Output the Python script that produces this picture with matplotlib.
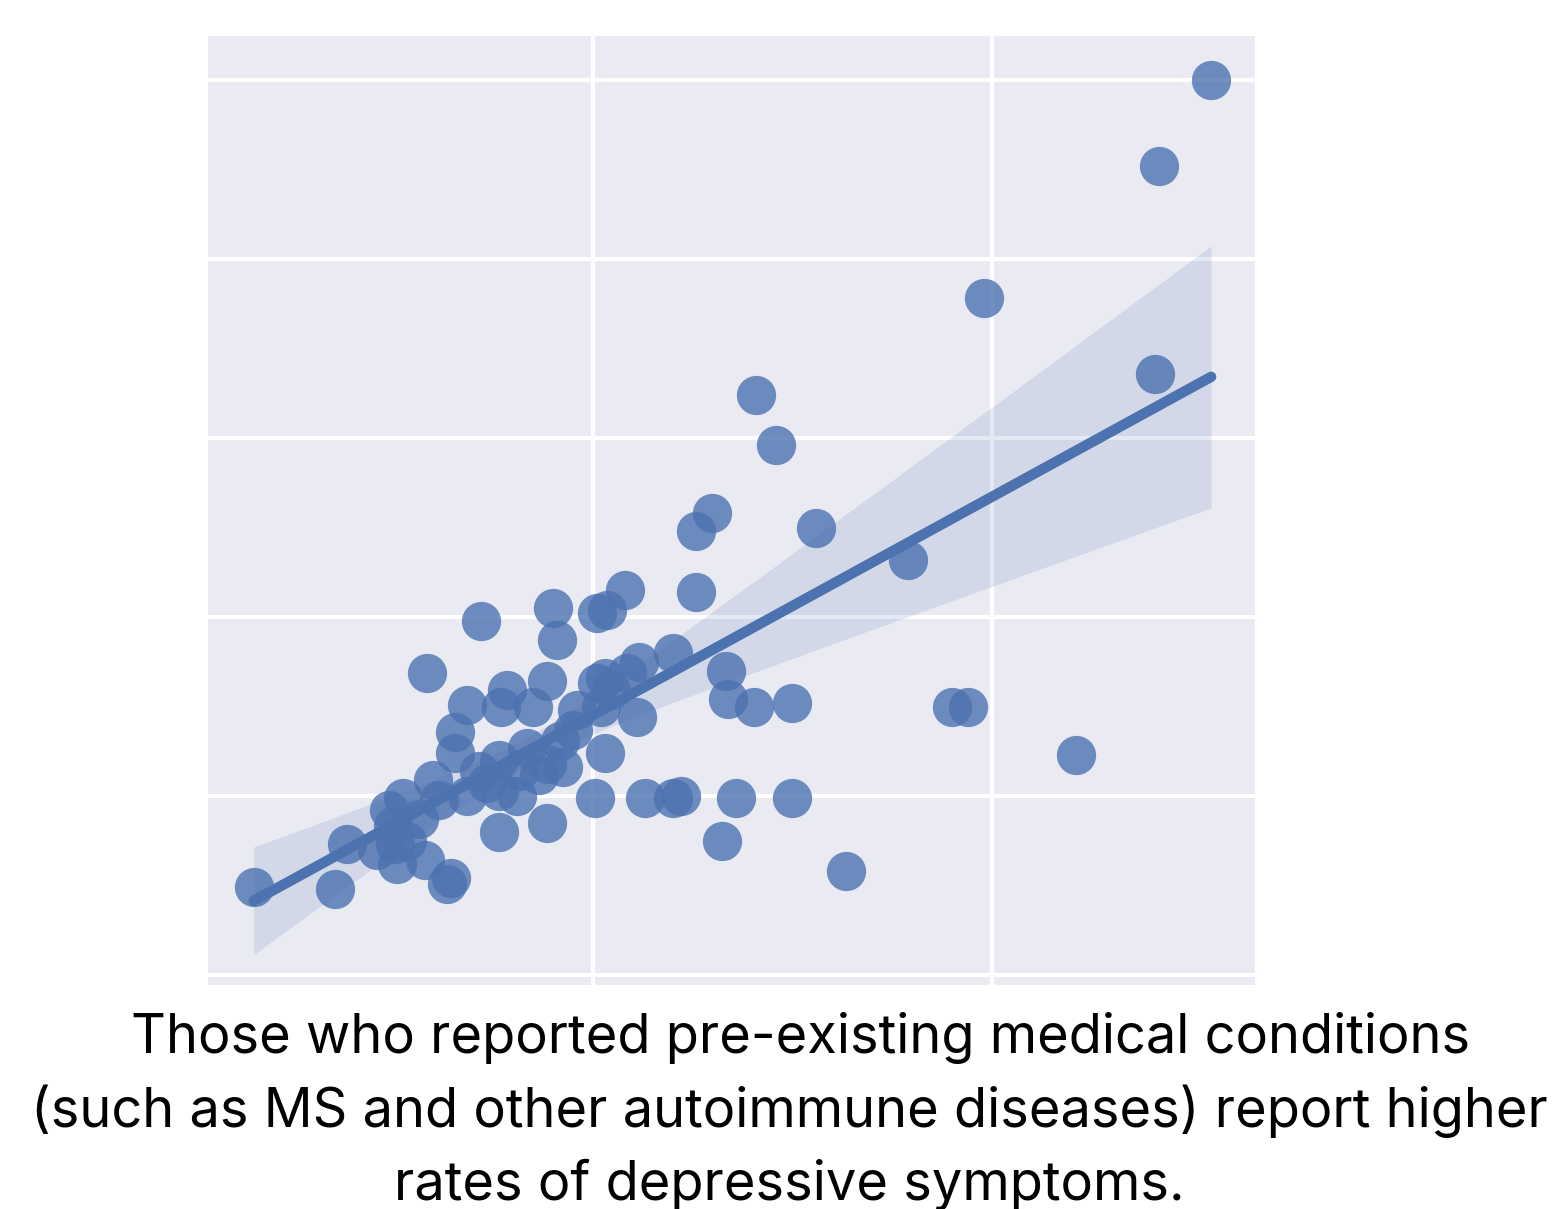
import numpy as np
import matplotlib.pyplot as plt
import seaborn as sns

# --- data ---
x = [25.5, 24.2, 19.8, 24.1, 14.1, 14.6, 13.0, 12.6, 15.6, 17.9,
     12.6, 10.8, 10.35, 10.1, 9.0, 9.1, 7.2, 5.85, 12.0, 11.15,
     13.35, 13.4, 14.05, 15.0, 19.0, 19.4, 22.1, 10.05, 11.3, 12.0,
     12.2, 13.6, 15.0, 13.25, 16.35, 8.85, 7.65, 1.5, 3.55, 6.35,
     6.45, 5.1, 5.35, 3.85, 5.25, 6.85, 6.0, 7.35, 8.1, 8.15,
     8.35, 8.85, 9.25, 10.3, 6.55, 6.55, 6.85, 7.7, 7.85, 8.5,
     8.85, 10.1, 10.2, 10.3, 11.1, 9.5, 9.6, 5.65, 4.9, 7.65,
     7.15, 6.15, 5.05, 9.17, 10.45, 10.85, 4.99, 4.6, 5.8, 7.65,
     8.65]
y = [25.0, 22.6, 18.9, 16.8, 16.2, 14.8, 12.9, 12.4, 12.5, 11.6,
     10.7, 10.75, 10.2, 10.1, 10.25, 9.35, 9.9, 8.45, 9.0, 8.75,
     8.5, 7.7, 7.5, 7.6, 7.5, 7.5, 6.15, 4.95, 4.95, 4.95,
     5.0, 4.95, 4.95, 3.75, 2.9, 4.25, 4.0, 2.45, 2.4, 2.55,
     2.7, 3.1, 3.75, 3.65, 4.95, 5.0, 5.45, 5.35, 5.0, 5.7,
     6.35, 5.9, 5.8, 6.2, 6.8, 6.2, 7.55, 7.5, 7.95, 7.5,
     8.2, 8.15, 7.5, 8.3, 7.2, 6.85, 7.4, 4.35, 4.6, 6.0,
     5.7, 4.9, 3.65, 6.55, 7.95, 8.45, 4.15, 3.5, 3.2, 5.15,
     5.6]
x_ticks = [10, 20]
y_ticks = [0, 5, 10, 15, 20, 25]
caption_lines = ["Those who reported pre-existing medical conditions",
                 "(such as MS and other autoimmune diseases) report higher",
                 "rates of depressive symptoms."]

x = np.array(x)
y = np.array(y)

# --- regression + confidence band (heteroscedasticity-robust, HC3) ---
X = np.column_stack([np.ones_like(x), x])
XtX_inv = np.linalg.inv(X.T @ X)
beta = XtX_inv @ X.T @ y
resid = y - X @ beta
h = np.sum(X @ XtX_inv * X, axis=1)
meat = X.T @ (X * (resid**2 / (1 - h)**2)[:, None])
cov = XtX_inv @ meat @ XtX_inv

xs = np.linspace(x.min(), x.max(), 100)
Xs = np.column_stack([np.ones_like(xs), xs])
ys = Xs @ beta
se = np.sqrt(np.sum(Xs @ cov * Xs, axis=1))
z = 1.68
lo = ys - z * se
hi = ys + z * se

# --- plot ---
sns.set_style("darkgrid")
plt.rcParams['font.family'] = ['Inter', 'DejaVu Sans']
fig = plt.figure(figsize=(15.55, 12.09), dpi=100)
ax = fig.add_axes([0.1331, 0.1853, 0.674, 0.7857])

blue = "#4C72B0"
ax.scatter(x, y, s=800, color=blue, alpha=0.8, linewidths=0)
ax.plot(xs, ys, color=blue, linewidth=7.5)
ax.fill_between(xs, lo, hi, color=blue, alpha=0.15, linewidth=0)

ax.set_xlim(0.33, 26.6)
ax.set_ylim(-0.28, 26.26)
ax.set_xticks(x_ticks)
ax.set_yticks(y_ticks)
ax.set_xticklabels([])
ax.set_yticklabels([])
ax.tick_params(length=0)
ax.grid(True, color="white", linewidth=3)

# caption, one line at a time (baselines and centres from the reference)
W, H = 1555, 1209
for line, cx, base in zip(caption_lines, [801, 789, 789], [1053, 1127, 1200]):
    fig.text(cx / W, 1 - base / H, line, ha="center", va="baseline",
             fontsize=39, color="black")

plt.savefig("out.png", dpi=100)
